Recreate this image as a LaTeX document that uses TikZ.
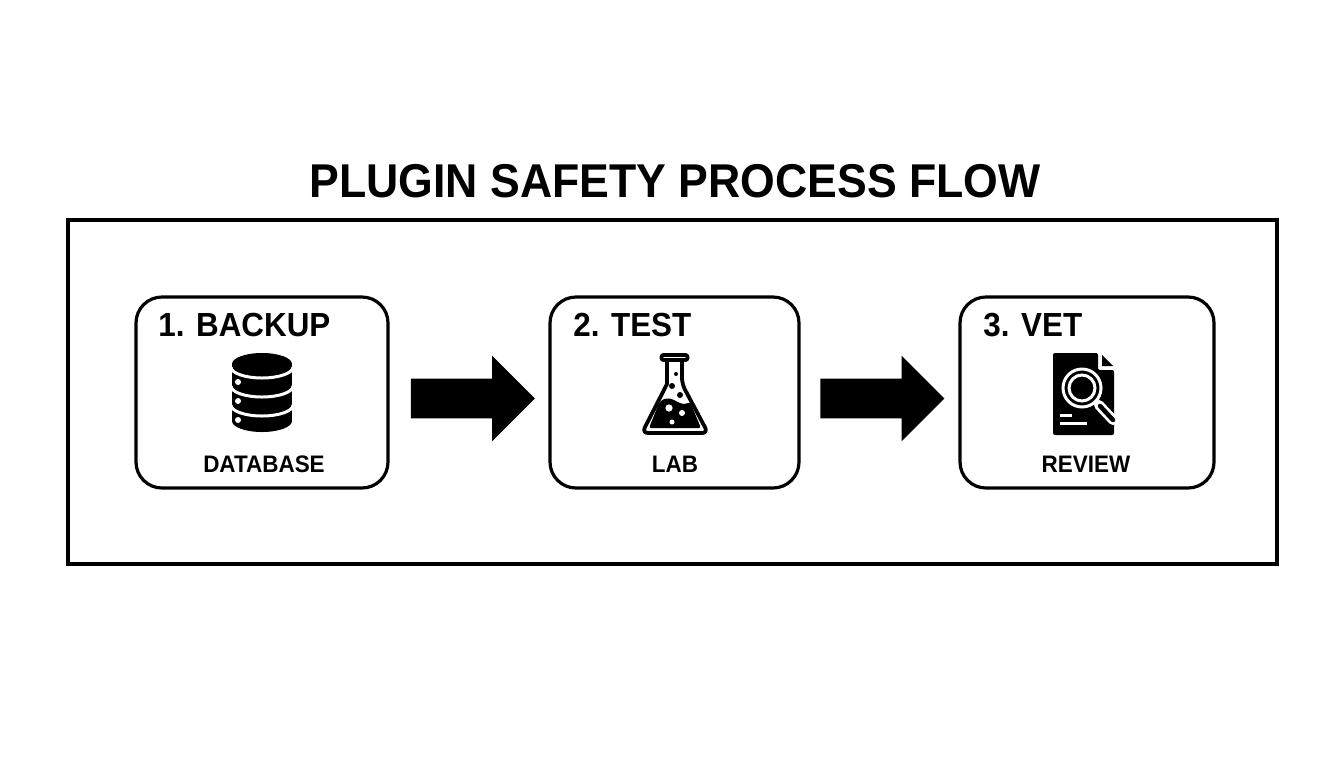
\documentclass[tikz,border=0pt]{standalone}
\usepackage{fontspec}
\setmainfont{Liberation Sans}[FakeStretch=0.94]
\usetikzlibrary{shapes.arrows}
\newcommand{\px}{0.02cm}

\begin{document}
\begin{tikzpicture}[x=\px,y=-\px,
    frame/.style={draw, rectangle, line width=3.2*\px, minimum width=1209*\px, minimum height=344*\px},
    stepbox/.style={draw, rectangle, rounded corners=26*\px, line width=3.2*\px, minimum height=191*\px, inner sep=0pt},
    bigarrow/.style={single arrow, fill=black, inner xsep=0pt, inner ysep=19.5*\px, minimum width=85*\px, minimum height=124*\px, single arrow head extend=23*\px, single arrow tip angle=90},
    steplabel/.style={anchor=base west, inner sep=0pt, font=\fontsize{19}{20}\selectfont\bfseries},
    sublabel/.style={anchor=base, inner sep=0pt, font=\fontsize{13.6}{14}\selectfont\bfseries},
    knockout/.style={draw=white, line width=3*\px},
    outline/.style={draw=black, line width=3.8*\px, line join=round, line cap=round}]
    \useasboundingbox (0,0) rectangle (1344,768);

    \node[inner sep=0pt, anchor=base, font=\fontsize{27}{28}\selectfont\bfseries] (title) at (675,197) {PLUGIN SAFETY PROCESS FLOW};
    \node[frame] (frame) at (672.5,392) {};

    % Boxes
    \node[stepbox, minimum width=252*\px] (box-1) at (262,392.5) {};
    \node[stepbox, minimum width=249*\px] (box-2) at (674.5,392.5) {};
    \node[stepbox, minimum width=254*\px] (box-3) at (1087,392.5) {};

    \node[bigarrow] (arrow-1) at (463,398.5) {};
    \node[bigarrow] (arrow-2) at (872.5,398.5) {};

    \node[steplabel] (head-1) at (158,336) {1. BACKUP};
    \node[steplabel] (head-2) at (573,336) {2. TEST};
    \node[steplabel] (head-3) at (983,336) {3. VET};

    \node[sublabel] (sub-1) at (264,472) {DATABASE};
    \node[sublabel] (sub-2) at (675,472) {LAB};
    \node[sublabel] (sub-3) at (1086,472) {REVIEW};

    % Database
    \fill (232,364) rectangle (292,421);
    \fill (262,364) ellipse[x radius=30, y radius=11];
    \fill (262,421) ellipse[x radius=30, y radius=11];
    \foreach \y in {367,386,405}
        \draw[knockout] (231,\y) arc[start angle=180, end angle=0, x radius=31, y radius=11];
    \foreach \y in {382,401,420}
        \fill[white] (238,\y) circle[radius=3];

    % Flask
    \draw[outline, rounded corners=2*\px] (661.5,355) rectangle (687.5,360);
    \draw[outline] (667,360) -- (667,384) [rounded corners=6*\px] -- (642,433) -- (708,433) -- (682,384) [sharp corners] -- (682,360);
    \fill[rounded corners=2*\px] (659,403) .. controls (666,396) and (672,399) .. (678,402) .. controls (684,405) and (688,403) .. (690,402) -- (701,428) -- (649,428) -- cycle;
    \fill[white] (669,408) circle[radius=3.6];
    \fill[white] (682,413) circle[radius=3];
    \fill[white] (672,422) circle[radius=2.5];
    \fill (676,374) circle[radius=2];
    \fill (672,386) circle[radius=3];
    \fill (680,395) circle[radius=3];

    % Review
    \fill[rounded corners=2*\px] (1053,353) -- (1098,353) -- (1098,370) -- (1114,370) -- (1114,435) -- (1053,435) -- cycle;
    \fill (1102,355) -- (1113,366) -- (1102,366) -- cycle;
    \draw[white, line width=3*\px] (1082,388) circle[radius=19];
    \draw[white, line width=3*\px] (1082,388) circle[radius=13];
    \draw[white, line width=10*\px, line cap=round] (1099,405) -- (1113,420);
    \draw[black, line width=4.5*\px, line cap=round] (1100,406) -- (1113,420);
    \draw[knockout] (1060,415) -- (1072,415);
    \draw[knockout] (1060,423) -- (1087,423);

\end{tikzpicture}
\end{document}
